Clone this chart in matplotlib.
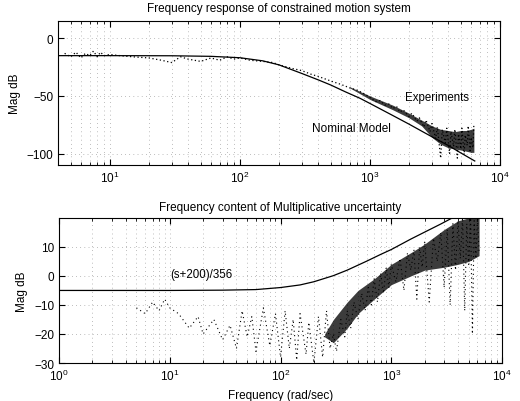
import numpy as np
import matplotlib.pyplot as plt
from matplotlib.ticker import LogLocator, NullFormatter

plt.rcParams['font.family'] = ['Liberation Sans', 'DejaVu Sans']

# upper plot: nominal model (rad/sec, dB)
nom_w = [4, 10, 30, 60, 100, 150, 200, 300, 400, 500, 650, 838, 1000, 1500, 2000, 3000, 4000, 5000, 6400]
nom_db = [-15, -15, -15.1, -15.6, -16.8, -19.5, -23, -30.5, -36, -40.5, -46.5, -52, -56.5, -67, -74.5, -85.5, -93, -99.5, -106.5]

# upper plot: experiments (trace)
exp_w = [4.5, 5, 5.5, 6, 6.5, 7, 7.5, 8, 8.5, 9, 10, 12, 15, 20, 25, 30, 35, 40, 50, 60,
         70, 80, 90, 100, 120, 150, 180, 200, 250, 300, 350, 400, 500, 600, 700, 800, 900,
         1000, 1100, 1200, 1300, 1400, 1500, 1600, 1700, 1800, 2000, 2100, 2300, 2400, 2600,
         2700, 2900, 3000, 3200, 3300, 3500, 3600, 3800, 3900, 4100, 4200, 4400, 4500, 4700,
         4800, 5000, 5100, 5300, 5400, 5600, 5700, 5900, 6000, 6200, 6300]
exp_db = [-13, -16, -12, -17, -13, -15, -11, -16, -12, -15, -14, -15, -16, -17, -19, -21, -16, -18, -20, -17,
          -19, -16, -18, -17, -19, -20, -21, -23, -26, -28, -31, -33, -37, -40, -43, -45, -48,
          -51, -55, -54, -58, -57, -61, -59, -64, -62, -68, -65, -72, -69, -77, -71, -81, -74,
          -87, -77, -104, -79, -91, -78, -100, -81, -94, -79, -104, -83, -96, -78, -101, -84,
          -93, -76, -99, -86, -95, -74]

# upper plot: experiments (dense band at high frequency)
band1_w = [700, 1000, 1500, 2000, 2500, 3000, 3500, 4000, 4500, 5000, 5500, 6000, 6300]
band1_hi = [-42, -50, -58, -65, -71, -76, -79, -80, -81, -80, -80, -79, -78]
band1_lo = [-43, -53, -62, -69, -76, -86, -92, -95, -96, -97, -98, -99, -99]

# lower plot: weight (s+200)/356
wt_w = [1, 10, 30, 60, 100, 150, 200, 300, 400, 600, 800, 1000, 1500, 2000, 2800, 3600]
wt_db = [-5, -5, -4.9, -4.7, -4.0, -3.1, -2.0, 0.1, 2.0, 5.1, 7.4, 9.1, 12.7, 15.1, 17.9, 20.1]

# lower plot: multiplicative uncertainty (trace)
unc_w = [5, 6, 7, 8, 9, 10, 12, 15, 18, 20, 25, 30, 35, 40, 45, 50, 55, 60, 70, 80, 90, 100,
         110, 120, 130, 140, 150, 170, 180, 200, 220, 240, 260, 280, 300, 320, 350, 380, 400,
         430, 460, 500, 540, 580, 620, 660, 700, 750, 800, 850, 900, 950, 1000, 1100, 1200,
         1300, 1400, 1500, 1600, 1700, 1800, 1900, 2000, 2200, 2400, 2600, 2800, 3000, 3200,
         3400, 3600, 3800, 4000, 4200, 4400, 4600, 4800, 5000, 5200, 5400, 5600, 5800, 6000, 6200]
unc_db = [-11, -13, -9, -12, -8, -11, -13, -18, -14, -20, -15, -22, -17, -25, -12, -21, -14, -26, -11, -24, -13, -28,
          -12, -25, -15, -29, -13, -27, -16, -30, -14, -28, -12, -25, -20, -26, -15, -21, -12,
          -18, -9, -15, -6, -12, -4, -10, -1, -9, 1, -6, 3, -4, 4, -2, 6,
          -5, 8, 2, 9, -8, 10, 3, 12, -9, 13, 5, 15, -4, 16,
          -10, 18, 2, 19, 6, 20, -12, 18, 4, 20, -20, 19, 6, 20, 8]

# lower plot: dense band
band2_w = [250, 300, 400, 500, 700, 1000, 1500, 2000, 3000, 4000, 5000, 6200]
band2_hi = [-20, -15, -9, -5, -1, 4, 8, 11, 16, 19, 20, 20]
band2_lo = [-21, -23, -18, -13, -8, -3, 0, 2, 3, 4, 5, 7]

fig = plt.figure(figsize=(5.2, 4.02), dpi=100)
ax1 = fig.add_axes([0.1115, 0.587, 0.85, 0.358])
ax2 = fig.add_axes([0.1135, 0.0945, 0.852, 0.361])

for ax in (ax1, ax2):
    ax.set_xscale('log')
    ax.xaxis.set_minor_locator(LogLocator(base=10, subs=np.arange(2, 10)))
    ax.xaxis.set_minor_formatter(NullFormatter())
    ax.tick_params(which='both', direction='in', top=True, right=True, labelsize=8.5)
    ax.tick_params(which='major', length=4)
    ax.tick_params(which='minor', length=2)
    ax.grid(True, which='major', color='k', linestyle=(0, (1, 5)), linewidth=0.5, alpha=0.5)
    ax.grid(True, which='minor', axis='x', color='k', linestyle=(0, (1, 5)), linewidth=0.5, alpha=0.5)
    ax.set_ylabel('Mag dB', fontsize=8.5)
    for s in ax.spines.values():
        s.set_linewidth(0.8)

ax1.fill_between(band1_w, band1_lo, band1_hi, color='0.1', alpha=0.85, linewidth=0)
ax1.plot(exp_w, exp_db, color='k', linestyle=(0, (1, 2)), linewidth=0.9)
ax1.plot(nom_w, nom_db, color='k', linewidth=0.9)
ax1.set_xlim(4, 1e4)
ax1.set_ylim(-110, 15)
ax1.set_yticks([0, -50, -100])
ax1.set_title('Frequency response of constrained motion system', fontsize=8.5, pad=7)
ax1.text(1860, -51, 'Experiments', fontsize=8.3, va='center')
ax1.text(358, -78, 'Nominal Model', fontsize=8.5, va='center')

ax2.fill_between(band2_w, band2_lo, band2_hi, color='0.1', alpha=0.85, linewidth=0)
ax2.plot(unc_w, unc_db, color='k', linestyle=(0, (1, 3)), linewidth=0.8)
ax2.plot(wt_w, wt_db, color='k', linewidth=0.9)
ax2.set_xlim(1, 1e4)
ax2.set_ylim(-30, 20)
ax2.set_yticks([-30, -20, -10, 0, 10])
ax2.set_title('Frequency content of Multiplicative uncertainty', fontsize=8.5, pad=5.5)
ax2.text(10, 0.7, '(s+200)/356', fontsize=8.3, va='center')
ax2.set_xlabel('Frequency (rad/sec)', fontsize=8.5)

fig.savefig('out.png', dpi=100)
